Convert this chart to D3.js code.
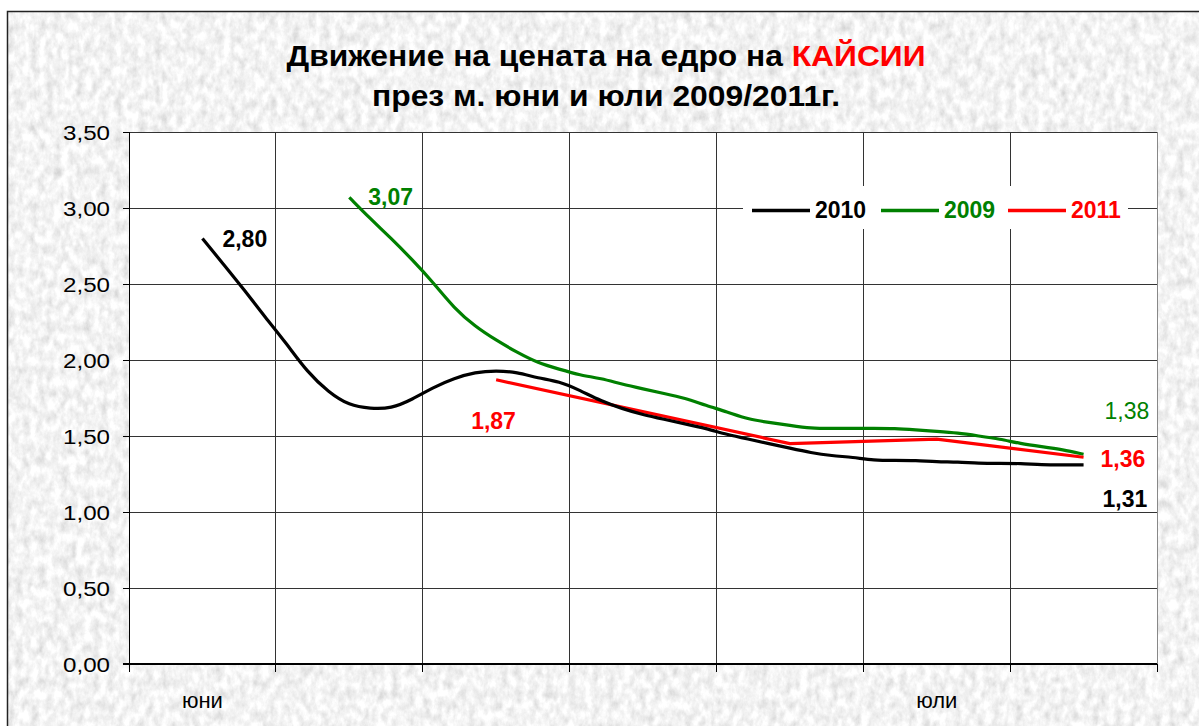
<!DOCTYPE html>
<html>
<head>
<meta charset="utf-8">
<script src="https://cdn.jsdelivr.net/npm/d3@7"></script>
<style>
  html, body { margin: 0; padding: 0; background: #fff; }
  svg { display: block; font-family: "Liberation Sans", Arial, sans-serif; }
</style>
</head>
<body>
<svg width="1199" height="726"></svg>
<script>
// categories: 49 days on the axis, ticks every 7 days
const dayCount = 49;
const tickEvery = 7;
const monthLabels = [
  { day: 3, text: "юни" },
  { day: 38, text: "юли" }
];
const yTicks = [0, 0.5, 1, 1.5, 2, 2.5, 3, 3.5];

// 2010 - starts at day 3
const start2010 = 3;
const values2010 = [2.80, 2.63, 2.46, 2.28, 2.11, 1.92, 1.79, 1.70, 1.68, 1.68,
  1.74, 1.82, 1.88, 1.92, 1.93, 1.92, 1.88, 1.86, 1.80, 1.73,
  1.68, 1.64, 1.61, 1.58, 1.55, 1.51, 1.48, 1.45, 1.42, 1.39,
  1.37, 1.36, 1.34, 1.34, 1.34, 1.33, 1.33, 1.32, 1.32, 1.32,
  1.31, 1.31, 1.31];

// 2009 - starts at day 10
const start2009 = 10;
const values2009 = [3.07, 2.93, 2.80, 2.66, 2.51, 2.34, 2.22, 2.13, 2.05, 1.98,
  1.94, 1.90, 1.88, 1.84, 1.81, 1.78, 1.75, 1.70, 1.66, 1.61,
  1.59, 1.57, 1.55, 1.55, 1.55, 1.55, 1.55, 1.54, 1.53, 1.52,
  1.50, 1.48, 1.45, 1.43, 1.41, 1.38];

// 2011 - only a few days, joined with straight lines
const days2011 = [17, 31, 38, 45];
const values2011 = [1.87, 1.45, 1.48, 1.36];

const svg = d3.select("svg");
const W = +svg.attr("width");
const H = +svg.attr("height");

const plot = { left: 129, right: 1157, top: 132, bottom: 664 };

// textured background
const defs = svg.append("defs");
const f = defs.append("filter").attr("id", "grain")
  .attr("x", 0).attr("y", 0).attr("width", "100%").attr("height", "100%");
f.append("feTurbulence").attr("type", "fractalNoise")
  .attr("baseFrequency", "0.13 0.09").attr("numOctaves", 4).attr("seed", 7);
f.append("feColorMatrix").attr("type", "saturate").attr("values", 0);
const ct = f.append("feComponentTransfer");
["feFuncR", "feFuncG", "feFuncB"].forEach(n =>
  ct.append(n).attr("type", "linear").attr("slope", 0.7).attr("intercept", 0.55));
ct.append("feFuncA").attr("type", "linear").attr("slope", 0).attr("intercept", 1);

svg.append("rect").attr("x", 7.5).attr("y", 11.5)
  .attr("width", W).attr("height", H)
  .attr("fill", "#e6e6e6").attr("filter", "url(#grain)");
svg.append("rect").attr("x", 7.5).attr("y", 11.5)
  .attr("width", W).attr("height", H)
  .attr("fill", "none").attr("stroke", "#222").attr("stroke-width", 1.5);

// scales
const x = d3.scaleBand().domain(d3.range(dayCount)).range([plot.left, plot.right]);
const cx = d => x(d) + x.bandwidth() / 2;
const y = d3.scaleLinear().domain([0, 3.5]).range([plot.bottom, plot.top]);

// plot area
svg.append("rect")
  .attr("x", plot.left).attr("y", plot.top)
  .attr("width", plot.right - plot.left).attr("height", plot.bottom - plot.top)
  .attr("fill", "#fff");

// gridlines
const grid = svg.append("g").attr("shape-rendering", "crispEdges");
grid.selectAll("line.h")
  .data(yTicks.filter(t => t > 0))
  .enter().append("line")
  .attr("x1", plot.left).attr("x2", plot.right)
  .attr("y1", d => y(d)).attr("y2", d => y(d))
  .attr("stroke", "#333");

const vTicks = d3.range(tickEvery, dayCount + 1, tickEvery);
grid.selectAll("line.v")
  .data(vTicks)
  .enter().append("line")
  .attr("x1", d => d < dayCount ? x(d) : plot.right)
  .attr("x2", d => d < dayCount ? x(d) : plot.right)
  .attr("y1", plot.top).attr("y2", plot.bottom)
  .attr("stroke", d => d < dayCount ? "#333" : "#888");

// y axis
const yAxis = svg.append("g")
  .attr("transform", `translate(${plot.left},0)`)
  .call(d3.axisLeft(y).tickValues(yTicks).tickSize(6).tickPadding(0)
    .tickFormat(d => d3.format(".2f")(d).replace(".", ",")));
yAxis.select(".domain").attr("stroke", "#000").attr("shape-rendering", "crispEdges");
yAxis.selectAll(".tick line").attr("stroke", "#000").attr("shape-rendering", "crispEdges");
yAxis.selectAll(".tick text")
  .attr("x", -19).attr("dy", "0.35em")
  .attr("font-size", 20).attr("fill", "#000")
  .attr("textLength", 47).attr("lengthAdjust", "spacingAndGlyphs");

// x axis
const xAxis = svg.append("g").attr("shape-rendering", "crispEdges");
xAxis.append("line")
  .attr("x1", plot.left - 6).attr("x2", plot.right)
  .attr("y1", plot.bottom).attr("y2", plot.bottom)
  .attr("stroke", "#000").attr("stroke-width", 1.5);
xAxis.selectAll("line.t")
  .data(d3.range(0, dayCount + 1, tickEvery))
  .enter().append("line")
  .attr("x1", d => d < dayCount ? x(d) : plot.right)
  .attr("x2", d => d < dayCount ? x(d) : plot.right)
  .attr("y1", plot.bottom).attr("y2", plot.bottom + 8)
  .attr("stroke", "#000");
svg.selectAll("text.month")
  .data(monthLabels)
  .enter().append("text")
  .attr("x", d => cx(d.day)).attr("y", plot.bottom + 44)
  .attr("text-anchor", "middle")
  .attr("font-size", 22).attr("fill", "#000")
  .text(d => d.text);

// lines
const pts2010 = values2010.map((v, i) => [start2010 + i, v]);
const pts2009 = values2009.map((v, i) => [start2009 + i, v]);
const pts2011 = values2011.map((v, i) => [days2011[i], v]);

const smooth = d3.line().x(d => cx(d[0])).y(d => y(d[1])).curve(d3.curveBasis);
const straight = d3.line().x(d => cx(d[0])).y(d => y(d[1]));

svg.append("path").attr("d", smooth(pts2009))
  .attr("fill", "none").attr("stroke", "#008000").attr("stroke-width", 3.2)
  .attr("stroke-linejoin", "round");
svg.append("path").attr("d", straight(pts2011))
  .attr("fill", "none").attr("stroke", "#ff0000").attr("stroke-width", 3.2)
  .attr("stroke-linejoin", "round");
svg.append("path").attr("d", smooth(pts2010))
  .attr("fill", "none").attr("stroke", "#000").attr("stroke-width", 3.2)
  .attr("stroke-linejoin", "round");

// value labels
const fmt = v => d3.format(".2f")(v).replace(".", ",");
const labels = [
  { p: pts2010[0], dx: 20, dy: 9, color: "#000", bold: true },
  { p: pts2009[0], dx: 19, dy: 8, color: "#008000", bold: true },
  { p: pts2011[0], dx: -25, dy: 49, color: "#ff0000", bold: true },
  { p: pts2009[pts2009.length - 1], dx: 21, dy: -35, color: "#008000", bold: false },
  { p: pts2011[pts2011.length - 1], dx: 17, dy: 10, color: "#ff0000", bold: true },
  { p: pts2010[pts2010.length - 1], dx: 19, dy: 42, color: "#000", bold: true }
];
svg.selectAll("text.val")
  .data(labels)
  .enter().append("text")
  .attr("x", d => cx(d.p[0]) + d.dx)
  .attr("y", d => y(d.p[1]) + d.dy)
  .attr("font-size", 23)
  .attr("font-weight", d => d.bold ? "bold" : "normal")
  .attr("fill", d => d.color)
  .text(d => fmt(d.p[1]));

// legend
const legendItems = [
  { name: "2010", color: "#000", x: 752 },
  { name: "2009", color: "#008000", x: 881 },
  { name: "2011", color: "#ff0000", x: 1008 }
];
const legend = svg.append("g");
legend.append("rect").attr("x", 743).attr("y", 186)
  .attr("width", 385).attr("height", 43).attr("fill", "#fff");
legendItems.forEach(it => {
  legend.append("line")
    .attr("x1", it.x).attr("x2", it.x + 58)
    .attr("y1", 210.5).attr("y2", 210.5)
    .attr("stroke", it.color).attr("stroke-width", 3.5);
  legend.append("text")
    .attr("x", it.x + 63).attr("y", 218)
    .attr("font-size", 23).attr("font-weight", "bold")
    .attr("fill", it.color).text(it.name);
});

// title
const title = svg.append("text")
  .attr("x", 606).attr("y", 66)
  .attr("text-anchor", "middle")
  .attr("font-size", 29).attr("font-weight", "bold")
  .attr("textLength", 639).attr("lengthAdjust", "spacingAndGlyphs");
title.append("tspan").attr("fill", "#000").text("Движение на цената на едро на ");
title.append("tspan").attr("fill", "#ff0000").text("КАЙСИИ");
svg.append("text")
  .attr("x", 606).attr("y", 106)
  .attr("text-anchor", "middle")
  .attr("font-size", 29).attr("font-weight", "bold")
  .attr("textLength", 468).attr("lengthAdjust", "spacingAndGlyphs")
  .attr("fill", "#000")
  .text("през м. юни и юли 2009/2011г.");
</script>
</body>
</html>
